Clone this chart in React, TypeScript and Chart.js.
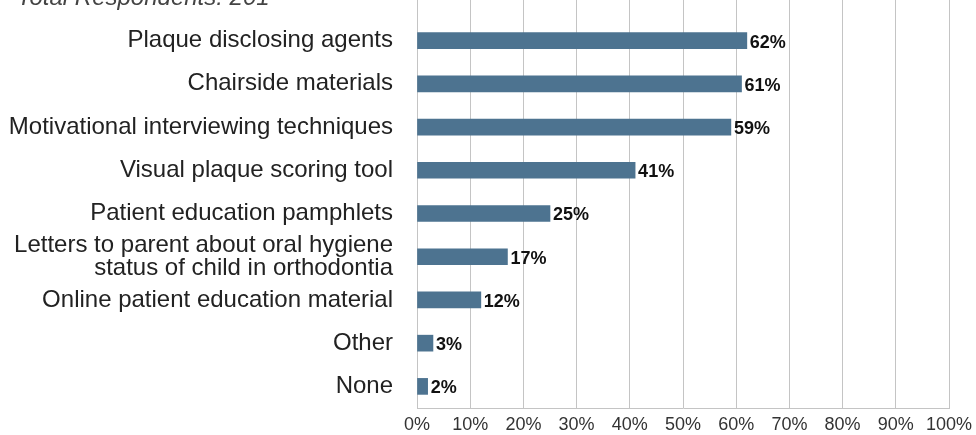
import React, { useEffect, useRef } from "react";
import { Chart, registerables } from "chart.js";

Chart.register(...registerables);

const titleText = "Total Respondents: 201";
const categories: (string | string[])[] = [
  "Plaque disclosing agents",
  "Chairside materials",
  "Motivational interviewing techniques",
  "Visual plaque scoring tool",
  "Patient education pamphlets",
  ["Letters to parent about oral hygiene", "status of child in orthodontia"],
  "Online patient education material",
  "Other",
  "None",
];
const values = [62, 61, 59, 41, 25, 17, 12, 3, 2];
const tickStep = 10;
const axisMax = 100;

const FONT = "'Liberation Sans', Arial, Helvetica, sans-serif";
const GRID = "#c4c4c4";

const extrasPlugin = {
  id: "extras",
  beforeDatasetsDraw(chart: any) {
    const { ctx, chartArea, scales } = chart;
    const x = scales.x;
    ctx.save();
    ctx.strokeStyle = GRID;
    ctx.lineWidth = 1;
    for (let v = 0; v <= axisMax; v += tickStep) {
      const px = Math.round(x.getPixelForValue(v) - 0.5) + 0.5;
      ctx.beginPath();
      ctx.moveTo(px, 0);
      ctx.lineTo(px, chartArea.top);
      ctx.stroke();
    }
    ctx.restore();
  },
  afterDatasetsDraw(chart: any) {
    const { ctx } = chart;
    const meta = chart.getDatasetMeta(0);
    ctx.save();
    ctx.font = `bold 18px ${FONT}`;
    ctx.fillStyle = "#111";
    ctx.textAlign = "left";
    ctx.textBaseline = "middle";
    meta.data.forEach((el: any, i: number) => {
      ctx.fillText(`${values[i]}%`, el.x + 3, el.y + 2);
    });
    ctx.font = `italic 24px ${FONT}`;
    ctx.fillStyle = "#444";
    ctx.textBaseline = "alphabetic";
    ctx.fillText(titleText, 17, 5);
    ctx.restore();
  },
};

export default function App() {
  const ref = useRef<HTMLCanvasElement>(null);
  useEffect(() => {
    if (!ref.current) return;
    const chart = new Chart(ref.current, {
      type: "bar",
      data: {
        labels: categories,
        datasets: [
          {
            data: values,
            backgroundColor: "#4d7390",
            barThickness: 16,
          },
        ],
      },
      options: {
        indexAxis: "y",
        animation: false,
        responsive: false,
        layout: { padding: { top: 19, right: 27, left: 0, bottom: 0 } },
        plugins: {
          legend: { display: false },
          tooltip: { enabled: false },
        },
        scales: {
          x: {
            min: 0,
            max: axisMax,
            ticks: {
              stepSize: tickStep,
              callback: (v: any) => `${v}%`,
              color: "#333",
              font: { family: FONT, size: 18 },
              padding: 6,
            },
            grid: { color: GRID, lineWidth: 1, drawTicks: false },
            border: { display: true, color: GRID, width: 1 },
            afterFit: (s: any) => {
              s.height = 27;
              s.paddingLeft = 0;
              s.paddingRight = 0;
            },
          },
          y: {
            ticks: {
              autoSkip: false,
              color: "#222",
              font: { family: FONT, size: 24, lineHeight: 0.95 },
              padding: 24,
            },
            grid: { display: false, drawTicks: false },
            border: { display: true, color: GRID, width: 1 },
            afterFit: (s: any) => {
              s.width = 417;
              s.paddingTop = 0;
              s.paddingBottom = 0;
            },
          },
        },
      },
      plugins: [extrasPlugin],
    });
    return () => chart.destroy();
  }, []);
  return (
    <div style={{ position: "fixed", left: 0, top: 0, width: 976, height: 435, background: "#fff" }}>
      <canvas ref={ref} width={976} height={435} style={{ width: 976, height: 435 }} />
    </div>
  );
}
